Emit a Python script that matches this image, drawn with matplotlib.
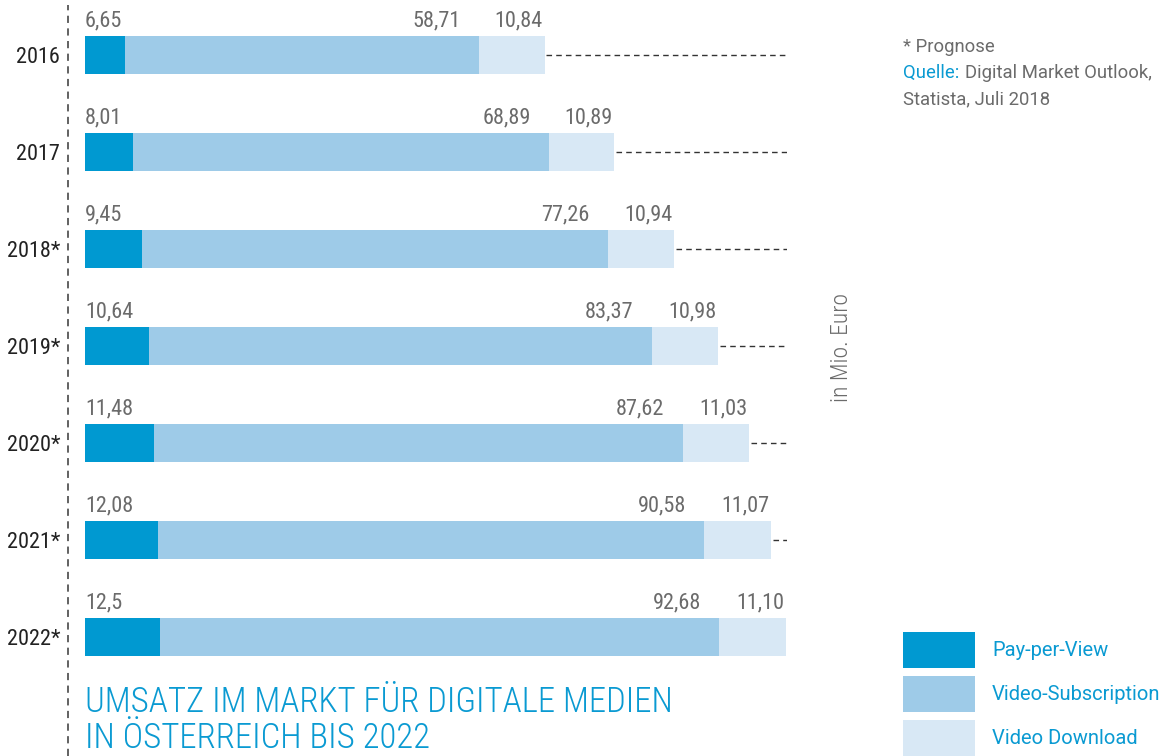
import matplotlib
matplotlib.use('Agg')
import matplotlib.pyplot as plt
from matplotlib.lines import Line2D
from matplotlib.patches import Rectangle

years = ['2016', '2017', '2018*', '2019*', '2020*', '2021*', '2022*']
pay_per_view = [6.65, 8.01, 9.45, 10.64, 11.48, 12.08, 12.5]
subscription = [58.71, 68.89, 77.26, 83.37, 87.62, 90.58, 92.68]
download = [10.84, 10.89, 10.94, 10.98, 11.03, 11.07, 11.10]
ppv_labels = ['6,65', '8,01', '9,45', '10,64', '11,48', '12,08', '12,5']
sub_labels = ['58,71', '68,89', '77,26', '83,37', '87,62', '90,58', '92,68']
dl_labels = ['10,84', '10,89', '10,94', '10,98', '11,03', '11,07', '11,10']
series_names = ['Pay-per-View', 'Video-Subscription', 'Video Download']

C_PPV = '#0099d1'
C_SUB = '#9ecbe8'
C_DL = '#d8e8f5'
C_TXT = '#6b6b6b'
C_BLUE = '#0a9ad2'

plt.rcParams['font.family'] = ['Roboto Condensed', 'Liberation Sans Narrow', 'DejaVu Sans']
WIDE = ['Roboto', 'DejaVu Sans']

W, H = 1170, 756
fig = plt.figure(figsize=(W / 100, H / 100), dpi=100)

def fx(px):
    return px / W

def fy(py):
    return 1 - py / H

# axes: x=0 at pixel 85, ~6.03 px per unit; bars 97 px apart, first centred at 55
ax = fig.add_axes([fx(85), 0, fx(787) - fx(85), 1])
xmax = 116.4
ax.set_xlim(0, xmax)
ax.set_ylim((H - 55) / 97, -55 / 97)

ypos = list(range(len(years)))
lefts2 = pay_per_view
lefts3 = [a + b for a, b in zip(pay_per_view, subscription)]
totals = [a + b for a, b in zip(lefts3, download)]

bh = 38 / 97
ax.barh(ypos, pay_per_view, height=bh, color=C_PPV, label=series_names[0])
ax.barh(ypos, subscription, left=lefts2, height=bh, color=C_SUB, label=series_names[1])
ax.barh(ypos, download, left=lefts3, height=bh, color=C_DL, label=series_names[2])

for i in ypos:
    if totals[i] < xmax - 0.5:
        ax.hlines(i, totals[i] + 0.3, xmax, colors='#333333', linestyles=(0, (4, 3)), lw=1)
    ly = i - 0.35
    ax.text(0, ly, ppv_labels[i], ha='left', va='center', fontsize=16, color=C_TXT)
    ax.text(lefts3[i] - 3.0, ly, sub_labels[i], ha='right', va='center', fontsize=16, color=C_TXT)
    ax.text(totals[i] - 0.3, ly, dl_labels[i], ha='right', va='center', fontsize=16, color=C_TXT)

ax.set_yticks(ypos, years)
ax.tick_params(axis='y', length=0, pad=18, labelsize=16, labelcolor='#222222')
ax.set_xticks([])
for s in ax.spines.values():
    s.set_visible(False)
ax.patch.set_alpha(0)

# vertical dashed separator
fig.add_artist(Line2D([fx(68), fx(68)], [0, fy(5)], transform=fig.transFigure,
                      color='#555555', lw=1.3, linestyle=(0, (4, 3))))

fig.text(fx(842), fy(348), 'in Mio. Euro', rotation=90, ha='center', va='center',
         fontsize=17, color=C_TXT, fontweight='light')

fs = 13.3
fig.text(fx(903), fy(47), '* Prognose', ha='left', va='center', fontsize=fs, color=C_TXT, family=WIDE)
t = fig.text(fx(903), fy(73), 'Quelle:', ha='left', va='center', fontsize=fs, color=C_BLUE, family=WIDE)
fig.canvas.draw()
bb = t.get_window_extent()
fig.text(bb.x1 / W + fx(6), fy(73), 'Digital Market Outlook,', ha='left', va='center',
         fontsize=fs, color=C_TXT, family=WIDE)
fig.text(fx(903), fy(99), 'Statista, Juli 2018', ha='left', va='center', fontsize=fs,
         color=C_TXT, family=WIDE)

# legend
for k, (name, col) in enumerate(zip(series_names, [C_PPV, C_SUB, C_DL])):
    top = 632 + k * 44
    fig.add_artist(Rectangle((fx(903), fy(top + 36)), fx(72), 36 / H, transform=fig.transFigure,
                             color=col, lw=0))
    fig.text(fx(992), fy(top + 19), name, ha='left', va='center', fontsize=14.5,
             color=C_BLUE, family=WIDE)

fig.text(fx(85), fy(702), 'UMSATZ IM MARKT FÜR DIGITALE MEDIEN', ha='left', va='center',
         fontsize=25, color=C_BLUE, fontweight='light')
fig.text(fx(85), fy(738), 'IN ÖSTERREICH BIS 2022', ha='left', va='center',
         fontsize=25, color=C_BLUE, fontweight='light')

fig.savefig('out.png', dpi=100)
